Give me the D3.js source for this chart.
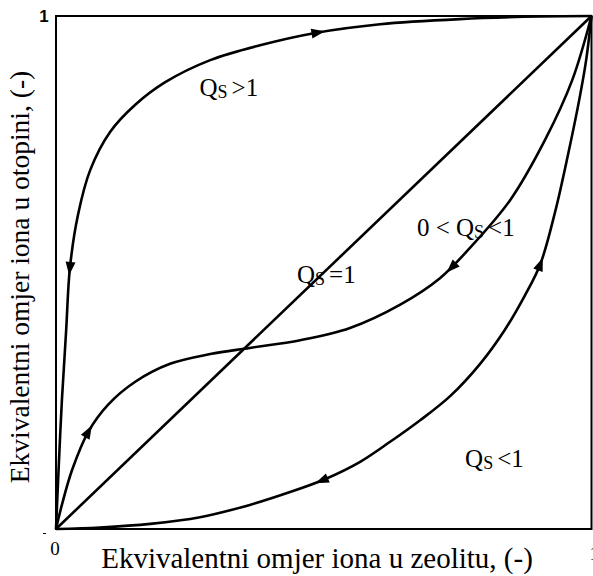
<!DOCTYPE html>
<html><head><meta charset="utf-8">
<script src="https://cdn.jsdelivr.net/npm/d3@7"></script>
<style>body{margin:0;background:#fff}svg{display:block}</style>
</head><body><svg id="c" width="593" height="576"></svg>
<script>
// ---- data (normalized 0..1 equivalent fractions) ----
const curveQgt1 = [[0,0],[0.004,0.096],[0.011,0.251],[0.019,0.388],[0.026,0.509],[0.041,0.612],[0.064,0.700],[0.101,0.774],[0.148,0.827],[0.204,0.871],[0.288,0.914],[0.381,0.943],[0.484,0.967],[0.605,0.984],[0.754,0.994],[0.904,0.999],[1,1]];
const curveQeq1 = [[0,0],[1,1]];
const curveS = [[0,0],[0.011,0.047],[0.030,0.115],[0.060,0.189],[0.097,0.242],[0.148,0.287],[0.213,0.322],[0.288,0.341],[0.362,0.353],[0.456,0.368],[0.549,0.392],[0.642,0.437],[0.717,0.489],[0.773,0.548],[0.848,0.641],[0.913,0.758],[0.964,0.875],[1,1]];
const curveQlt1 = [[0,0],[0.082,0.003],[0.176,0.010],[0.269,0.023],[0.362,0.047],[0.437,0.072],[0.502,0.097],[0.568,0.131],[0.624,0.170],[0.680,0.212],[0.736,0.259],[0.792,0.322],[0.838,0.388],[0.876,0.456],[0.904,0.515],[0.932,0.618],[0.956,0.729],[0.977,0.836],[0.990,0.914],[1,1]];
// arrows: [x, y, direction along the curve (+1 forward, -1 backward)]
const arrowsQgt1 = [[0.026,0.509,-1],[0.488,0.967,1]];
const arrowsS = [[0.060,0.189,1],[0.740,0.510,-1]];
const arrowsQlt1 = [[0.497,0.095,-1],[0.904,0.515,1]];
const curveLabels = [
  {pre:"", sub:"S", post:">1", at:[0.268,0.845]},
  {pre:"", sub:"S", post:"=1", at:[0.450,0.480]},
  {pre:"0 < ", sub:"S", post:"<1", at:[0.674,0.572]},
  {pre:"", sub:"S", post:"<1", at:[0.764,0.120]}
];
const xTitle = "Ekvivalentni omjer iona u zeolitu, (-)";
const yTitle = "Ekvivalentni omjer iona u otopini, (-)";

// ---- layout ----
const svg = d3.select("#c");
const x = d3.scaleLinear().domain([0,1]).range([56,591.5]);
const y = d3.scaleLinear().domain([0,1]).range([529,16]);
const serif = "'Liberation Serif','Times New Roman',serif";

// frame
svg.append("rect").attr("x",x(0)).attr("y",y(1)).attr("width",x(1)-x(0)).attr("height",y(0)-y(1))
  .attr("fill","none").attr("stroke","#000").attr("stroke-width",2);

const line = d3.line().x(d=>x(d[0])).y(d=>y(d[1])).curve(d3.curveCatmullRom.alpha(0.5));
function drawCurve(data, arrows){
  const p = svg.append("path").attr("d",line(data)).attr("fill","none")
    .attr("stroke","#000").attr("stroke-width",2.6).attr("stroke-linejoin","round");
  const node = p.node(), L = node.getTotalLength();
  arrows.forEach(a=>{
    const tx=x(a[0]), ty=y(a[1]);
    let best=0, bd=1e9;
    for(let l=0;l<=L;l+=0.5){const pt=node.getPointAtLength(l);const d=(pt.x-tx)**2+(pt.y-ty)**2;if(d<bd){bd=d;best=l;}}
    const p0=node.getPointAtLength(Math.max(0,best-3)), p1=node.getPointAtLength(Math.min(L,best+3));
    let dx=(p1.x-p0.x)*a[2], dy=(p1.y-p0.y)*a[2]; const n=Math.hypot(dx,dy); dx/=n; dy/=n;
    const c=node.getPointAtLength(best), len=7.5, w=5;
    const tip=[c.x+dx*len,c.y+dy*len], b=[c.x-dx*len*0.8,c.y-dy*len*0.8];
    svg.append("path").attr("d",`M${tip[0]},${tip[1]}L${b[0]-dy*w},${b[1]+dx*w}L${b[0]+dy*w},${b[1]-dx*w}Z`).attr("fill","#000");
  });
}
drawCurve(curveQgt1, arrowsQgt1);
drawCurve(curveQeq1, []);
drawCurve(curveS, arrowsS);
drawCurve(curveQlt1, arrowsQlt1);

// curve labels
curveLabels.forEach(l=>{
  const t = svg.append("text").attr("x",x(l.at[0])).attr("y",y(l.at[1]))
    .attr("font-family",serif).attr("font-size",25).attr("fill","#000");
  t.append("tspan").text(l.pre+"Q");
  t.append("tspan").text(l.sub).attr("font-size",18).attr("dy",2);
  t.append("tspan").text(l.post).attr("dy",-2).attr("dx",4);
});

// tick labels
svg.append("text").attr("x",44).attr("y",22).attr("text-anchor","middle")
  .attr("font-family","'Liberation Sans',Arial,sans-serif").attr("font-weight","bold").attr("font-size",17).text("1");
svg.append("text").attr("x",55).attr("y",555).attr("text-anchor","middle")
  .attr("font-family",serif).attr("font-size",19).text("0");
svg.append("text").attr("x",589.5).attr("y",560)
  .attr("font-family",serif).attr("font-size",19).text("1");
svg.append("line").attr("x1",43).attr("x2",46).attr("y1",533.5).attr("y2",533.5).attr("stroke","#000").attr("stroke-width",1);

// axis titles
svg.append("text").attr("x",317).attr("y",568).attr("text-anchor","middle")
  .attr("font-family",serif).attr("font-size",29).text(xTitle);
svg.append("text").attr("transform","translate(29,277) rotate(-90)").attr("text-anchor","middle")
  .attr("font-family",serif).attr("font-size",27.5).text(yTitle);
</script></body></html>
